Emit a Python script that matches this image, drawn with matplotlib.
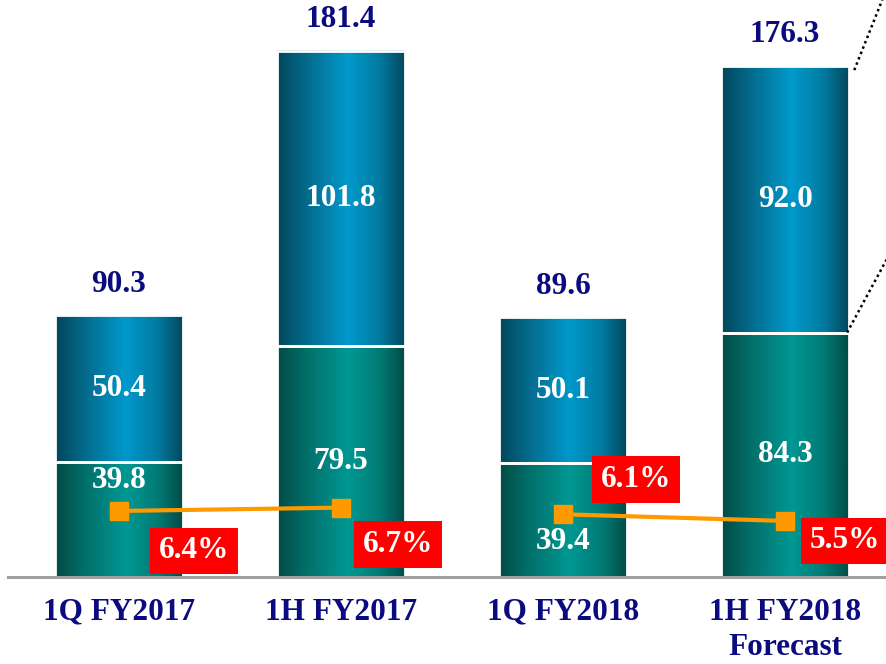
import numpy as np
import matplotlib
matplotlib.use("Agg")
import matplotlib.pyplot as plt
from matplotlib.colors import LinearSegmentedColormap

# data
categories=["1Q FY2017","1H FY2017","1Q FY2018","1H FY2018\nForecast"]
bottom_vals=[39.8,79.5,39.4,84.3]
top_vals=[50.4,101.8,50.1,92.0]
totals=[90.3,181.4,89.6,176.3]
pct_vals=[6.4,6.7,6.1,5.5]
pct_labels=["6.4%","6.7%","6.1%","5.5%"]
line_groups=[[0,1],[2,3]]

# style / placement
navy="#0b0b80"
serif="Liberation Serif"
bottom_label_shift=[39,0,-22,0]        # px, bottom segment labels
pct_box_offset=[(75,-40),(57,-37),(73,35),(60,-20)]   # px from marker

cmap_top=LinearSegmentedColormap.from_list("top",[(0,"#02465a"),(0.22,"#04698a"),(0.55,"#0099cc"),(0.8,"#037aa0"),(1,"#02465a")])
cmap_bot=LinearSegmentedColormap.from_list("bot",[(0,"#024a44"),(0.22,"#036e68"),(0.55,"#009893"),(0.8,"#027a74"),(1,"#024a44")])

fig=plt.figure(figsize=(8.87,6.64),dpi=100)
ax=fig.add_axes([0,87/664,1,577/664])
x=np.arange(len(categories))
w=0.577

grad=np.linspace(0,1,256).reshape(1,-1)
b1=ax.bar(x,bottom_vals,w,facecolor="none",edgecolor="white",linewidth=2,zorder=3)
b2=ax.bar(x,top_vals,w,bottom=bottom_vals,facecolor="none",edgecolor="white",linewidth=2,zorder=3)
for bars,cm in [(b1,cmap_bot),(b2,cmap_top)]:
    for p in bars:
        x0,y0=p.get_x(),p.get_y()
        ax.imshow(grad,cmap=cm,aspect="auto",extent=[x0,x0+p.get_width(),y0,y0+p.get_height()],zorder=2,interpolation="bicubic")
ax.set_xlim(-0.536,3.459)
ax.set_ylim(0,577/2.9)

# segment labels
for i in range(len(x)):
    ax.annotate(f"{bottom_vals[i]:.1f}",(x[i],bottom_vals[i]/2),xytext=(0,bottom_label_shift[i]*0.72),
                textcoords="offset points",ha="center",va="center",color="white",
                fontsize=22.5,fontweight="bold",family=serif,zorder=5)
    ax.annotate(f"{top_vals[i]:.1f}",(x[i],bottom_vals[i]+top_vals[i]/2),ha="center",va="center",
                color="white",fontsize=22.5,fontweight="bold",family=serif,zorder=5)
    ax.annotate(f"{totals[i]:.1f}",(x[i],totals[i]),xytext=(0,31*0.72),textcoords="offset points",
                ha="center",va="center",color=navy,fontsize=22.5,fontweight="bold",family=serif,
                annotation_clip=False)

# baseline
ax.axhline(0,xmin=8/887,xmax=1,color="#a0a0a0",linewidth=2.2,zorder=4,clip_on=False)

# dotted connectors at the right
xr=x[3]+w/2
ax.plot([xr+0.023,xr+0.149],[totals[3]-1.5,577/2.9],color="black",linestyle=(0,(1,1.3)),linewidth=1.8,clip_on=False,zorder=4)
ax.plot([xr-0.009,xr+0.171],[bottom_vals[3],bottom_vals[3]+25.5],color="black",linestyle=(0,(1,1.3)),linewidth=1.8,clip_on=False,zorder=4)

ax.set_xticks(x)
ax.set_xticklabels(categories,fontsize=22.5,fontweight="bold",family=serif,color=navy,linespacing=1.28)
ax.tick_params(axis="x",length=0,pad=15)
ax.set_yticks([])
for s in ax.spines.values():
    s.set_visible(False)

# percentage line on secondary axis
ax2=ax.twinx()
ax2.set_ylim(0.45,0.45+577/11.1)
ax2.set_yticks([])
for s in ax2.spines.values():
    s.set_visible(False)
for g in line_groups:
    ax2.plot(x[g],[pct_vals[k] for k in g],color="#ff9900",linewidth=3,marker="s",markersize=13.5,zorder=6)
for i in range(len(x)):
    dx,dy=pct_box_offset[i]
    ax2.annotate(pct_labels[i],(x[i],pct_vals[i]),xytext=(dx*0.72,dy*0.72),textcoords="offset points",
                 ha="center",va="center",color="white",fontsize=22.5,fontweight="bold",family=serif,
                 bbox=dict(boxstyle="square,pad=0.28",facecolor="#ff0000",edgecolor="none"),zorder=7,
                 annotation_clip=False)

fig.savefig("out.png",dpi=100)
